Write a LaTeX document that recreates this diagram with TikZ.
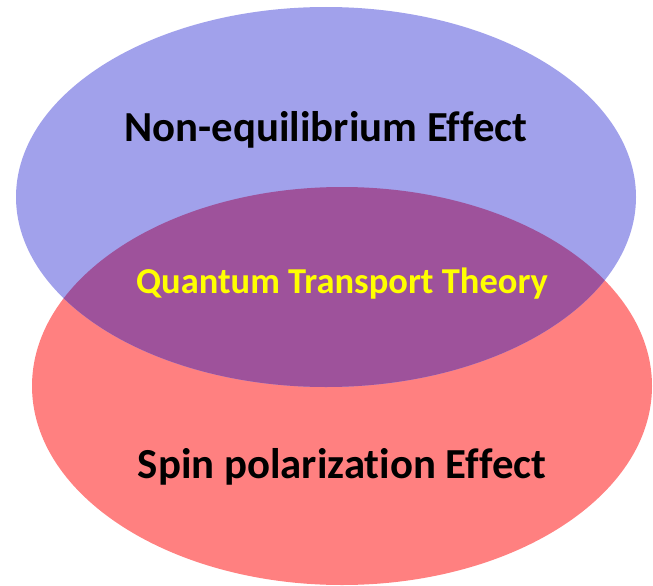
\documentclass[tikz,border=0pt]{standalone}
\usepackage{fontspec}
\setmainfont[Ligatures=NoCommon]{Carlito}
\usepackage{xcolor}
\usetikzlibrary{positioning}

\definecolor{noneqblue}{RGB}{161,161,235}
\definecolor{spinred}{RGB}{255,128,128}
\definecolor{qttpurple}{RGB}{158,82,155}
\definecolor{qttyellow}{RGB}{255,255,0}

\tikzset{
  bigtext/.style={inner sep=0pt, font=\bfseries\fontsize{42.8}{46}\selectfont},
  midtext/.style={inner sep=0pt, font=\bfseries\fontsize{36.5}{40}\selectfont, text=qttyellow}
}

\begin{document}
\begin{tikzpicture}[x=1pt,y=1pt,yscale=-1,xscale=1]

\useasboundingbox (0,0) rectangle (653,586);

\fill[spinred] (342,386) ellipse [x radius=310, y radius=199];
\fill[noneqblue] (326,197) ellipse [x radius=310, y radius=190];

\begin{scope}
\clip (326,197) ellipse [x radius=310, y radius=190];
\fill[qttpurple] (342,386) ellipse [x radius=310, y radius=199];
\end{scope}


\node[bigtext] (noneq) at (326,130) {Non-equilibrium Effect};

\node[midtext] (qtt) at (342,284) {Quantum Transport Theory};

\node[bigtext] (spin) at (342,467) {Spin polarization Effect};


\end{tikzpicture}
\end{document}
